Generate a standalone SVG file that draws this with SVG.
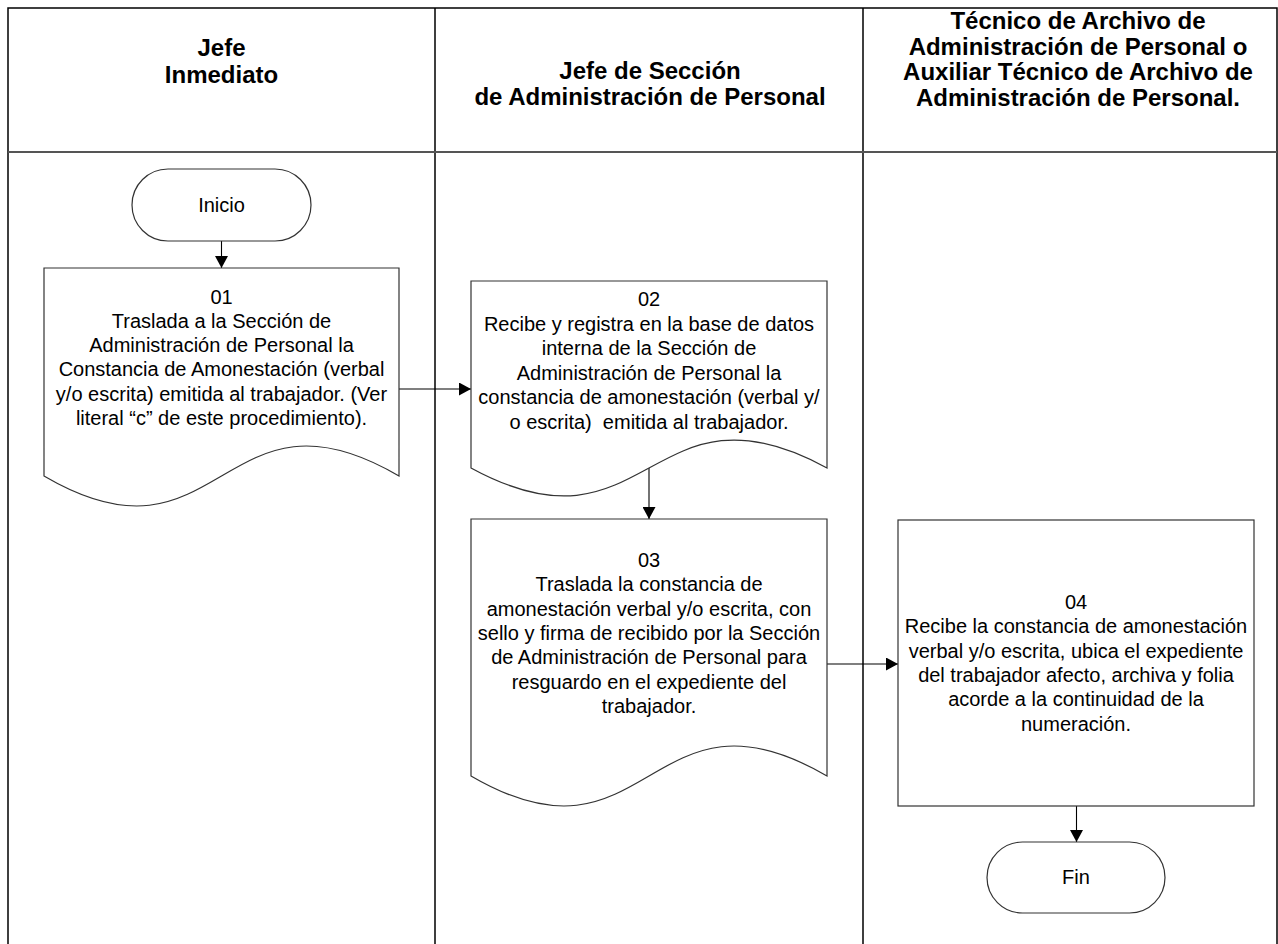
<svg xmlns="http://www.w3.org/2000/svg" width="1278" height="944" viewBox="0 0 1278 944">
<defs>
<style>
.lane{fill:none;stroke:#000;stroke-width:1.5}
.hdiv{fill:none;stroke:#555;stroke-width:2}
.shape{fill:#fff;stroke:#333;stroke-width:1.2}
.conn{fill:none;stroke:#000;stroke-width:1.1}
.h{font-family:"Liberation Sans",Arial,sans-serif;font-weight:bold;font-size:24px;fill:#000;text-anchor:middle}
.t{font-family:"Liberation Sans",Arial,sans-serif;font-size:20px;fill:#000;text-anchor:middle}
</style>
<marker id="ah" markerUnits="userSpaceOnUse" markerWidth="13" markerHeight="13" refX="12" refY="6.5" orient="auto">
<path d="M0,0 L12,6.5 L0,13 Z" fill="#000"/>
</marker>
</defs>
<rect width="1278" height="944" fill="#fff"/>
<g id="lanes">
<path class="lane" d="M8,950 V8 H1277 V950"/>
<path class="lane" d="M435,8 V950 M863,8 V950"/>
<path class="hdiv" d="M8,152 H1277"/>
<text class="h" x="221.5" y="56">Jefe</text>
<text class="h" x="221.5" y="83">Inmediato</text>
<text class="h" x="650" y="79">Jefe de Sección</text>
<text class="h" x="650" y="105">de Administración de Personal</text>
<text class="h" x="1078" y="29">Técnico de Archivo de</text>
<text class="h" x="1078" y="54.5">Administración de Personal o</text>
<text class="h" x="1078" y="80">Auxiliar Técnico de Archivo de</text>
<text class="h" x="1078" y="105.5">Administración de Personal.</text>
</g>
<g id="connectors">
<path class="conn" d="M221.5,241 V268" marker-end="url(#ah)"/>
<path class="conn" d="M399,389 H471" marker-end="url(#ah)"/>
<path class="conn" d="M649,468 V519" marker-end="url(#ah)"/>
<path class="conn" d="M827,664 H898" marker-end="url(#ah)"/>
<path class="conn" d="M1076.5,806 V842" marker-end="url(#ah)"/>
</g>
<g id="inicio">
<rect class="shape" x="132" y="169" width="179" height="72" rx="36" ry="36"/>
<text class="t" x="221.5" y="212">Inicio</text>
</g>
<g id="n01">
<path class="shape" d="M44,268 H399 V476 C221.5,372 221.5,580 44,476 Z"/>
<text class="t" x="221.5" y="303.5">01</text>
<text class="t" x="221.5" y="327.8">Traslada a la Sección de</text>
<text class="t" x="221.5" y="352.1">Administración de Personal la</text>
<text class="t" x="221.5" y="376.4">Constancia de Amonestación (verbal</text>
<text class="t" x="221.5" y="400.7">y/o escrita) emitida al trabajador. (Ver</text>
<text class="t" x="221.5" y="425">literal “c” de este procedimiento).</text>
</g>
<g id="n02">
<path class="shape" d="M471,281 H827 V468 C649,371 649,565 471,468 Z"/>
<text class="t" x="649" y="306">02</text>
<text class="t" x="649" y="330.5">Recibe y registra en la base de datos</text>
<text class="t" x="649" y="355">interna de la Sección de</text>
<text class="t" x="649" y="379.5">Administración de Personal la</text>
<text class="t" x="649" y="404">constancia de amonestación (verbal y/</text>
<text class="t" x="649" y="428.5" xml:space="preserve">o escrita)  emitida al trabajador.</text>
</g>
<g id="n03">
<path class="shape" d="M471,519 H827 V776 C649,672 649,880 471,776 Z"/>
<text class="t" x="649" y="567">03</text>
<text class="t" x="649" y="591.3">Traslada la constancia de</text>
<text class="t" x="649" y="615.6">amonestación verbal y/o escrita, con</text>
<text class="t" x="649" y="640">sello y firma de recibido por la Sección</text>
<text class="t" x="649" y="664.3">de Administración de Personal para</text>
<text class="t" x="649" y="688.6">resguardo en el expediente del</text>
<text class="t" x="649" y="713">trabajador.</text>
</g>
<g id="n04">
<rect class="shape" x="898" y="520" width="356" height="286"/>
<text class="t" x="1076" y="609">04</text>
<text class="t" x="1076" y="633.3">Recibe la constancia de amonestación</text>
<text class="t" x="1076" y="657.6">verbal y/o escrita, ubica el expediente</text>
<text class="t" x="1076" y="682">del trabajador afecto, archiva y folia</text>
<text class="t" x="1076" y="706.3">acorde a la continuidad de la</text>
<text class="t" x="1076" y="730.6">numeración.</text>
</g>
<g id="fin">
<rect class="shape" x="987" y="842" width="178" height="71" rx="35.5" ry="35.5"/>
<text class="t" x="1076" y="884">Fin</text>
</g>
</svg>
